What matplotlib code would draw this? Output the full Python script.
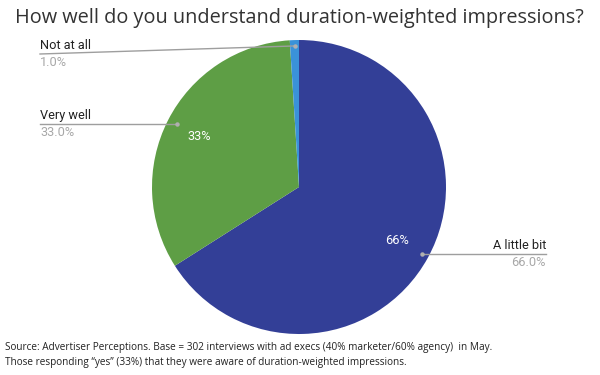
import matplotlib
matplotlib.use('Agg')
import matplotlib.pyplot as plt
import numpy as np

labels = ['A little bit', 'Very well', 'Not at all']
values = [66.0, 33.0, 1.0]
colors = ['#333F97', '#5E9E45', '#3A92D9']

fig = plt.figure(figsize=(6, 3.75), dpi=100)
fig.patch.set_facecolor('white')

W, H = 600, 375
cx, cy, r = 299, 187, 147
ax = fig.add_axes([(cx - r) / W, 1 - (cy + r) / H, 2 * r / W, 2 * r / H])
wedges, _ = ax.pie(values, colors=colors, startangle=90, counterclock=False,
                   wedgeprops=dict(linewidth=0))
ax.set_xlim(-1, 1)
ax.set_ylim(-1, 1)
ax.set_aspect('auto')

# overlay axes in pixel coordinates for labels/leader lines
ov = fig.add_axes([0, 0, 1, 1])
ov.set_xlim(0, W)
ov.set_ylim(H, 0)
ov.axis('off')

def wedge_point(i, frac):
    w = wedges[i]
    ang = np.deg2rad((w.theta1 + w.theta2) / 2)
    return cx + frac * r * np.cos(ang), cy - frac * r * np.sin(ang)

lab_font = dict(family='Roboto', fontsize=9.2)
# percent labels inside
for i, frac in [(0, 0.76), (1, 0.76)]:
    x, y = wedge_point(i, frac)
    ov.text(x, y, f'{values[i]:.0f}%', color='white', ha='center', va='center',
            **lab_font)

# outside labels with leader lines
callouts = [
    (2, 40, 54),
    (1, 40, 124),
    (0, 546, 254),
]
for i, lx, ly in callouts:
    side = 'right' if lx > cx else 'left'
    if i == 2:
        px, py = wedge_point(i, 0.96)
    elif i == 1:
        px, py = 177, 124
    else:
        px, py = 422, 254
    ov.plot([lx, px], [ly, py], color='#9E9E9E', lw=1)
    ov.plot(px, py, 'o', ms=2.2, color='#B0B0B0')
    ov.text(lx, ly - 2, labels[i], ha=side, va='bottom', color='#222222',
            **lab_font)
    ov.text(lx, ly + 2, f'{values[i]:.1f}%', ha=side, va='top', color='#A8A8A8',
            **lab_font)

fig.text(299 / W, 1 - 18 / H, 'How well do you understand duration-weighted impressions?',
         ha='center', va='center', family='Open Sans', fontsize=14.3, color='#333333')
fig.text(5 / W, 1 - 355 / H,
         'Source: Advertiser Perceptions. Base = 302 interviews with ad execs (40% marketer/60% agency)  in May.\n'
         'Those responding \u201cyes\u201d (33%) that they were aware of duration-weighted impressions.',
         ha='left', va='center', family='Open Sans', fontsize=7.2, color='#222222',
         linespacing=1.4)

fig.savefig('out.png', dpi=100, facecolor='white')
